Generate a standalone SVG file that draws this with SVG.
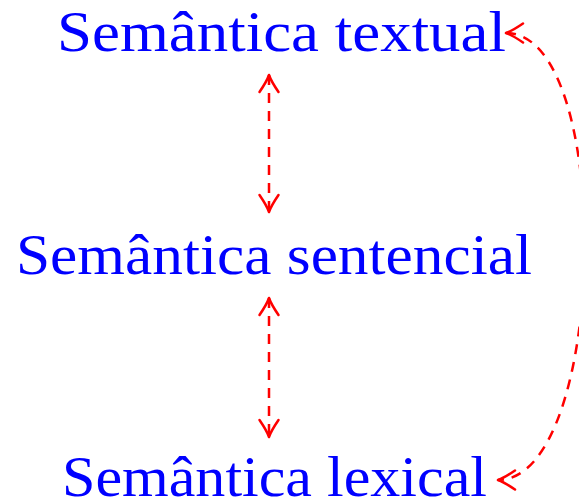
<svg xmlns="http://www.w3.org/2000/svg" width="579" height="503" viewBox="0 0 579 503">
<style>
.lbl{font-family:"Liberation Serif","Times New Roman",serif;font-size:56px;fill:#0000ff}
.conn{fill:none;stroke:#ff0000;stroke-width:2.5;stroke-dasharray:10 8}
</style>
<defs>
<marker id="ah" markerUnits="userSpaceOnUse" markerWidth="24" markerHeight="24" viewBox="-20 -12 24 24" refX="0" refY="0" orient="auto-start-reverse" overflow="visible">
<path d="M-17,-9.5 Q-6,-2 0,0 Q-6,2 -17,9.5" fill="none" stroke="#ff0000" stroke-width="2.5" stroke-linecap="round" stroke-linejoin="round"/>
</marker>
</defs>
<rect width="579" height="503" fill="#ffffff"/>
<g id="connectors">
<path class="conn" d="M269,75 L269,212" marker-start="url(#ah)" marker-end="url(#ah)"/>
<path class="conn" d="M269,298 L269,437" marker-start="url(#ah)" marker-end="url(#ah)"/>
<path class="conn" d="M506,33 C616,33 608,480 498,480" marker-start="url(#ah)" marker-end="url(#ah)"/>
</g>
<g id="textual"><text class="lbl" x="57" y="51" textLength="449" lengthAdjust="spacingAndGlyphs">Semântica textual</text></g>
<g id="sentencial"><text class="lbl" x="16" y="274" textLength="516" lengthAdjust="spacingAndGlyphs">Semântica sentencial</text></g>
<g id="lexical"><text class="lbl" x="62" y="496" textLength="425" lengthAdjust="spacingAndGlyphs">Semântica lexical</text></g>
</svg>
